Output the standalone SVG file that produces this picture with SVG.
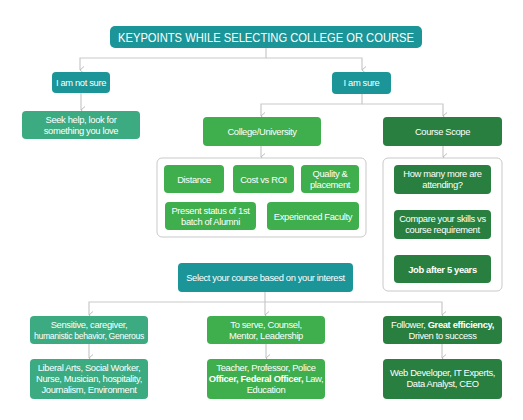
<svg xmlns="http://www.w3.org/2000/svg" width="523" height="420" viewBox="0 0 523 420">
<defs>
<marker id="arr" markerUnits="userSpaceOnUse" markerWidth="10" markerHeight="8" refX="5" refY="6" orient="auto-start-reverse" viewBox="0 0 10 8">
<path d="M1.5,2 L5,6 L8.5,2" fill="none" stroke="#bdbdbd" stroke-width="1"/>
</marker>
</defs>
<style>
.t{font-family:"Liberation Sans",Arial,sans-serif;font-size:9.4px;fill:#fff;text-anchor:middle;letter-spacing:-0.35px}
.teal{fill:#1b9598}
.sea{fill:#3cab82}
.grn{fill:#3fae4d}
.dk{fill:#297f3f}
.c{fill:none;stroke:#c9c9c9;stroke-width:1.2}
.box{fill:#fff;stroke:#c9c9c9;stroke-width:1}
</style>
<rect width="523" height="420" fill="#fff"/>
<g id="connectors">
<path class="c" d="M266 48 V58 H80 V70" marker-end="url(#arr)"/>
<path class="c" d="M266 58 H362 V70" marker-end="url(#arr)"/>
<path class="c" d="M81 93 V110" marker-end="url(#arr)"/>
<path class="c" d="M362 94 V104 H261 V116" marker-end="url(#arr)"/>
<path class="c" d="M362 104 H443 V116" marker-end="url(#arr)"/>
<path class="c" d="M261 146 V157" marker-end="url(#arr)"/>
<path class="c" d="M443 146 V157" marker-end="url(#arr)"/>
<path class="c" d="M265 292 V302 H89 V315" marker-end="url(#arr)"/>
<path class="c" d="M265 302 V315" marker-end="url(#arr)"/>
<path class="c" d="M265 302 H442 V315" marker-end="url(#arr)"/>
<path class="c" d="M89 344 V358" marker-end="url(#arr)"/>
<path class="c" d="M266 344 V358" marker-end="url(#arr)"/>
<path class="c" d="M442 344 V358" marker-end="url(#arr)"/>
</g>
<g id="title"><rect class="teal" x="110" y="26" width="312" height="22" rx="5"/><text class="t" x="266" y="42" style="font-size:13px;letter-spacing:0" textLength="296" lengthAdjust="spacingAndGlyphs">KEYPOINTS WHILE SELECTING COLLEGE OR COURSE</text></g>
<g id="notsure"><rect class="teal" x="52" y="72" width="58" height="21" rx="4"/><text class="t" x="81" y="85.5">I am not sure</text></g>
<g id="seekhelp"><rect class="sea" x="22" y="111" width="118" height="28" rx="4"/><text class="t" x="81" y="123">Seek help, look for</text><text class="t" x="81" y="134">something you love</text></g>
<g id="sure"><rect class="teal" x="332" y="72" width="59" height="22" rx="4"/><text class="t" x="361.5" y="86">I am sure</text></g>
<g id="college"><rect class="grn" x="203" y="117" width="118" height="29" rx="4"/><text class="t" x="262" y="135">College/University</text></g>
<g id="coursescope"><rect class="dk" x="383" y="117" width="119" height="29" rx="4"/><text class="t" x="442.5" y="135">Course Scope</text></g>
<g id="collegeContainer"><rect class="box" x="157" y="158" width="209" height="79" rx="5"/></g>
<g id="distance"><rect class="grn" x="164" y="165" width="60" height="28" rx="4"/><text class="t" x="194" y="182.5">Distance</text></g>
<g id="cost"><rect class="grn" x="233" y="165" width="61" height="28" rx="4"/><text class="t" x="263.5" y="182.5">Cost vs ROI</text></g>
<g id="quality"><rect class="grn" x="301" y="165" width="58" height="28" rx="4"/><text class="t" x="330" y="177">Quality &amp;</text><text class="t" x="330" y="188">placement</text></g>
<g id="present"><rect class="grn" x="165" y="202" width="91" height="28" rx="4"/><text class="t" x="210.5" y="214">Present status of 1st</text><text class="t" x="210.5" y="225">batch of Alumni</text></g>
<g id="faculty"><rect class="grn" x="267" y="202" width="92" height="28" rx="4"/><text class="t" x="313" y="219.5">Experienced Faculty</text></g>
<g id="scopeContainer"><rect class="box" x="383" y="158" width="119" height="133" rx="5"/></g>
<g id="howmany"><rect class="dk" x="394" y="165" width="97" height="29" rx="4"/><text class="t" x="442.5" y="177">How many more are</text><text class="t" x="442.5" y="188">attending?</text></g>
<g id="compare"><rect class="dk" x="394" y="210" width="97" height="29" rx="4"/><text class="t" x="442.5" y="222">Compare your skills vs</text><text class="t" x="442.5" y="233">course requirement</text></g>
<g id="job"><rect class="dk" x="394" y="255" width="97" height="28" rx="4"/><text class="t" x="442.5" y="272.5" font-weight="bold">Job after 5 years</text></g>
<g id="select"><rect class="teal" x="178" y="263" width="175" height="29" rx="4"/><text class="t" x="265.5" y="281">Select your course based on your interest</text></g>
<g id="sensitive"><rect class="sea" x="30" y="316" width="118" height="28" rx="4"/><text class="t" x="89" y="328">Sensitive, caregiver,</text><text class="t" x="89" y="339" textLength="110" lengthAdjust="spacingAndGlyphs">humanistic behavior, Generous</text></g>
<g id="liberal"><rect class="sea" x="30" y="359" width="118" height="40" rx="4"/><text class="t" x="89" y="371">Liberal Arts, Social Worker,</text><text class="t" x="89" y="382">Nurse, Musician, hospitality,</text><text class="t" x="89" y="393">Journalism, Environment</text></g>
<g id="toserve"><rect class="grn" x="207" y="316" width="118" height="28" rx="4"/><text class="t" x="266" y="328">To serve, Counsel,</text><text class="t" x="266" y="339">Mentor, Leadership</text></g>
<g id="teacher"><rect class="grn" x="207" y="359" width="118" height="40" rx="4"/><text class="t" x="266" y="371">Teacher, Professor, Police</text><text class="t" x="266" y="382"><tspan font-weight="bold">Officer, Federal Officer,</tspan> Law,</text><text class="t" x="266" y="393">Education</text></g>
<g id="follower"><rect class="dk" x="383" y="316" width="119" height="28" rx="4"/><text class="t" x="442.5" y="328">Follower, <tspan font-weight="bold">Great efficiency,</tspan></text><text class="t" x="442.5" y="339">Driven to success</text></g>
<g id="webdev"><rect class="dk" x="383" y="359" width="119" height="40" rx="4"/><text class="t" x="442.5" y="376">Web Developer, IT Experts,</text><text class="t" x="442.5" y="387">Data Analyst, CEO</text></g>
</svg>
